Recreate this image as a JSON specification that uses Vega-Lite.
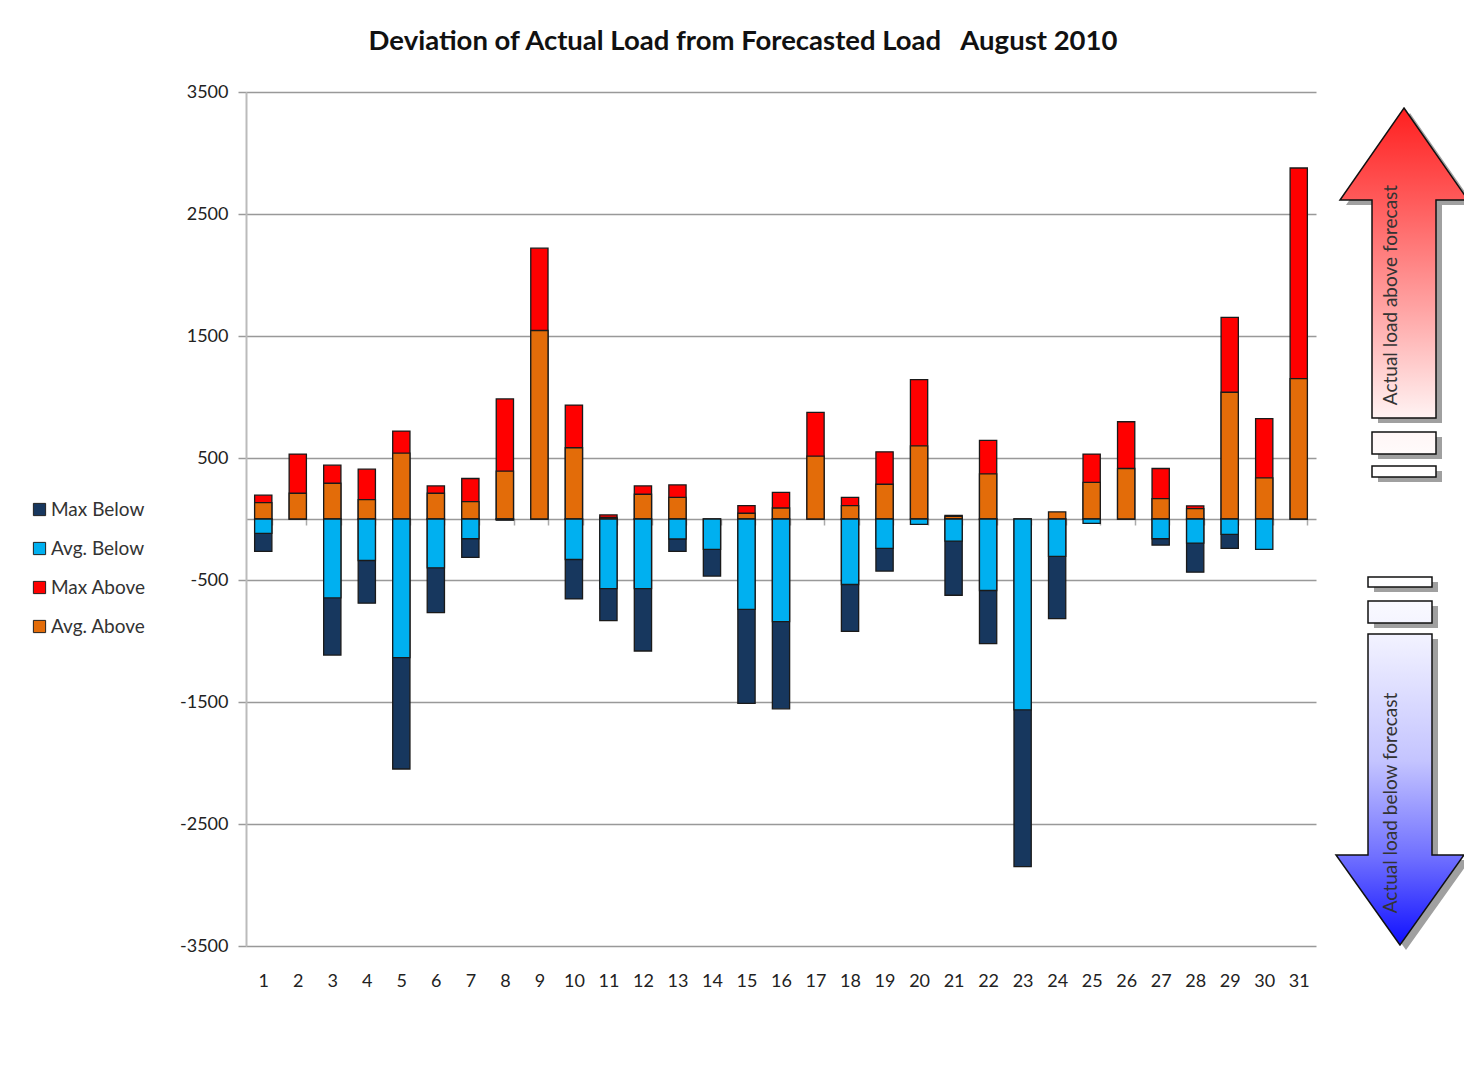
{
  "$schema": "https://vega.github.io/schema/vega-lite/v6.json",
  "width": 1070,
  "height": 854,
  "autosize": "none",
  "padding": {"left": 246, "top": 92, "right": 148, "bottom": 121},
  "background": "white",
  "config": {"view": {"stroke": null}, "font": "Lato"},
  "title": {
    "text": "Deviation of Actual Load from Forecasted Load\u00a0\u00a0 August 2010",
    "font": "Lato",
    "fontSize": 27.5,
    "fontWeight": "bold",
    "color": "#111",
    "anchor": "middle",
    "dx": -38,
    "offset": 28
  },
  "datasets": {
    "bars": [
      {"day": 1, "series": "Max Above", "value": 195},
      {"day": 2, "series": "Max Above", "value": 532},
      {"day": 3, "series": "Max Above", "value": 441},
      {"day": 4, "series": "Max Above", "value": 408},
      {"day": 5, "series": "Max Above", "value": 721},
      {"day": 6, "series": "Max Above", "value": 271},
      {"day": 7, "series": "Max Above", "value": 332},
      {"day": 8, "series": "Max Above", "value": 984},
      {"day": 9, "series": "Max Above", "value": 2220},
      {"day": 10, "series": "Max Above", "value": 934},
      {"day": 11, "series": "Max Above", "value": 33},
      {"day": 12, "series": "Max Above", "value": 271},
      {"day": 13, "series": "Max Above", "value": 279},
      {"day": 15, "series": "Max Above", "value": 110},
      {"day": 16, "series": "Max Above", "value": 219},
      {"day": 17, "series": "Max Above", "value": 874},
      {"day": 18, "series": "Max Above", "value": 178},
      {"day": 19, "series": "Max Above", "value": 551},
      {"day": 20, "series": "Max Above", "value": 1142},
      {"day": 21, "series": "Max Above", "value": 30},
      {"day": 22, "series": "Max Above", "value": 644},
      {"day": 25, "series": "Max Above", "value": 532},
      {"day": 26, "series": "Max Above", "value": 797},
      {"day": 27, "series": "Max Above", "value": 414},
      {"day": 28, "series": "Max Above", "value": 107},
      {"day": 29, "series": "Max Above", "value": 1653},
      {"day": 30, "series": "Max Above", "value": 822},
      {"day": 31, "series": "Max Above", "value": 2877},
      {"day": 1, "series": "Max Below", "value": -266},
      {"day": 3, "series": "Max Below", "value": -1115},
      {"day": 4, "series": "Max Below", "value": -690},
      {"day": 5, "series": "Max Below", "value": -2049},
      {"day": 6, "series": "Max Below", "value": -767},
      {"day": 7, "series": "Max Below", "value": -315},
      {"day": 8, "series": "Max Below", "value": -10},
      {"day": 10, "series": "Max Below", "value": -655},
      {"day": 11, "series": "Max Below", "value": -833},
      {"day": 12, "series": "Max Below", "value": -1082},
      {"day": 13, "series": "Max Below", "value": -266},
      {"day": 14, "series": "Max Below", "value": -468},
      {"day": 15, "series": "Max Below", "value": -1512},
      {"day": 16, "series": "Max Below", "value": -1556},
      {"day": 18, "series": "Max Below", "value": -921},
      {"day": 19, "series": "Max Below", "value": -427},
      {"day": 21, "series": "Max Below", "value": -625},
      {"day": 22, "series": "Max Below", "value": -1022},
      {"day": 23, "series": "Max Below", "value": -2849},
      {"day": 24, "series": "Max Below", "value": -816},
      {"day": 27, "series": "Max Below", "value": -214},
      {"day": 28, "series": "Max Below", "value": -436},
      {"day": 29, "series": "Max Below", "value": -241},
      {"day": 1, "series": "Avg. Above", "value": 134},
      {"day": 2, "series": "Avg. Above", "value": 211},
      {"day": 3, "series": "Avg. Above", "value": 293},
      {"day": 4, "series": "Avg. Above", "value": 159},
      {"day": 5, "series": "Avg. Above", "value": 540},
      {"day": 6, "series": "Avg. Above", "value": 211},
      {"day": 7, "series": "Avg. Above", "value": 142},
      {"day": 8, "series": "Avg. Above", "value": 392},
      {"day": 9, "series": "Avg. Above", "value": 1545},
      {"day": 10, "series": "Avg. Above", "value": 584},
      {"day": 11, "series": "Avg. Above", "value": 14},
      {"day": 12, "series": "Avg. Above", "value": 203},
      {"day": 13, "series": "Avg. Above", "value": 178},
      {"day": 15, "series": "Avg. Above", "value": 47},
      {"day": 16, "series": "Avg. Above", "value": 90},
      {"day": 17, "series": "Avg. Above", "value": 515},
      {"day": 18, "series": "Avg. Above", "value": 110},
      {"day": 19, "series": "Avg. Above", "value": 285},
      {"day": 20, "series": "Avg. Above", "value": 600},
      {"day": 21, "series": "Avg. Above", "value": 22},
      {"day": 22, "series": "Avg. Above", "value": 370},
      {"day": 24, "series": "Avg. Above", "value": 58},
      {"day": 25, "series": "Avg. Above", "value": 301},
      {"day": 26, "series": "Avg. Above", "value": 414},
      {"day": 27, "series": "Avg. Above", "value": 167},
      {"day": 28, "series": "Avg. Above", "value": 85},
      {"day": 29, "series": "Avg. Above", "value": 1039},
      {"day": 30, "series": "Avg. Above", "value": 337},
      {"day": 31, "series": "Avg. Above", "value": 1150},
      {"day": 1, "series": "Avg. Below", "value": -118},
      {"day": 3, "series": "Avg. Below", "value": -647},
      {"day": 4, "series": "Avg. Below", "value": -340},
      {"day": 5, "series": "Avg. Below", "value": -1137},
      {"day": 6, "series": "Avg. Below", "value": -400},
      {"day": 7, "series": "Avg. Below", "value": -162},
      {"day": 8, "series": "Avg. Below", "value": -5},
      {"day": 10, "series": "Avg. Below", "value": -332},
      {"day": 11, "series": "Avg. Below", "value": -570},
      {"day": 12, "series": "Avg. Below", "value": -570},
      {"day": 13, "series": "Avg. Below", "value": -164},
      {"day": 14, "series": "Avg. Below", "value": -249},
      {"day": 15, "series": "Avg. Below", "value": -740},
      {"day": 16, "series": "Avg. Below", "value": -841},
      {"day": 18, "series": "Avg. Below", "value": -537},
      {"day": 19, "series": "Avg. Below", "value": -241},
      {"day": 20, "series": "Avg. Below", "value": -44},
      {"day": 21, "series": "Avg. Below", "value": -181},
      {"day": 22, "series": "Avg. Below", "value": -586},
      {"day": 23, "series": "Avg. Below", "value": -1564},
      {"day": 24, "series": "Avg. Below", "value": -307},
      {"day": 25, "series": "Avg. Below", "value": -36},
      {"day": 27, "series": "Avg. Below", "value": -162},
      {"day": 28, "series": "Avg. Below", "value": -197},
      {"day": 29, "series": "Avg. Below", "value": -126},
      {"day": 30, "series": "Avg. Below", "value": -249}
    ],
    "upArrow": [{"pos": 1158, "value": 3369}],
    "downArrow": [{"pos": 1154, "value": -3492}],
    "arrowText": [
      {"pos": 1145, "value": 1836, "txt": "Actual load above forecast"},
      {"pos": 1145, "value": -2328, "txt": "Actual load below forecast"}
    ]
  },
  "layer": [
    {
      "data": {"name": "bars"},
      "mark": {"type": "bar", "stroke": "#1a1a1a", "strokeWidth": 1.3},
      "encoding": {
        "x": {
          "field": "day",
          "type": "ordinal",
          "scale": {"paddingInner": 0.5, "paddingOuter": 0.25},
          "axis": {
            "title": null,
            "orient": "bottom",
            "offset": -427,
            "labelAngle": 0,
            "labelFont": "Lato",
            "labelFontSize": 18,
            "labelColor": "#222",
            "labelPadding": 447,
            "tickBand": "extent",
            "tickSize": 6,
            "tickColor": "#aaa",
            "tickWidth": 1.5,
            "domainColor": "#999",
            "domainWidth": 1.5,
            "grid": false
          }
        },
        "y": {
          "field": "value",
          "type": "quantitative",
          "stack": null,
          "scale": {"domain": [-3500, 3500], "nice": false, "zero": false},
          "axis": {
            "title": null,
            "values": [-3500, -2500, -1500, -500, 500, 1500, 2500, 3500],
            "labelExpr": "'' + datum.value",
            "grid": true,
            "gridColor": "#999",
            "gridWidth": 1.5,
            "domainColor": "#bbb",
            "domainWidth": 2,
            "tickSize": 8,
            "tickColor": "#999",
            "tickWidth": 1.5,
            "labelFont": "Lato",
            "labelFontSize": 18,
            "labelColor": "#222",
            "labelPadding": 10
          }
        },
        "color": {
          "field": "series",
          "type": "nominal",
          "scale": {
            "domain": ["Max Below", "Avg. Below", "Max Above", "Avg. Above"],
            "range": ["#17375E", "#00B0F0", "#FF0000", "#E36C09"]
          },
          "legend": {
            "title": null,
            "orient": "none",
            "legendX": -216,
            "legendY": 408,
            "padding": 0,
            "symbolType": "square",
            "symbolSize": 150,
            "symbolStrokeColor": "#222",
            "symbolStrokeWidth": 1,
            "labelFont": "Lato",
            "labelFontSize": 19,
            "labelColor": "#333",
            "labelOffset": 2,
            "rowPadding": 19
          }
        }
      }
    },
    {
      "data": {"name": "upArrow"},
      "mark": {
        "type": "point",
        "shape": "M0,0L0.64,0.92L0.32,0.92L0.32,3.1L-0.32,3.1L-0.32,0.92L-0.64,0.92ZM-0.32,3.24L0.32,3.24L0.32,3.46L-0.32,3.46ZM-0.32,3.58L0.32,3.58L0.32,3.69L-0.32,3.69Z",
        "size": 40000,
        "filled": true,
        "fill": "#808080",
        "opacity": 0.75,
        "strokeWidth": 0,
        "xOffset": 6,
        "yOffset": 5
      },
      "encoding": {
        "x": {"field": "pos", "type": "quantitative", "scale": {"domain": [0, 1070], "nice": false, "zero": false}, "axis": null},
        "y": {"field": "value", "type": "quantitative"}
      }
    },
    {
      "data": {"name": "downArrow"},
      "mark": {
        "type": "point",
        "shape": "M0,0L-0.64,-0.9L-0.32,-0.9L-0.32,-3.11L0.32,-3.11L0.32,-0.9L0.64,-0.9ZM-0.32,-3.22L0.32,-3.22L0.32,-3.44L-0.32,-3.44ZM-0.32,-3.58L0.32,-3.58L0.32,-3.68L-0.32,-3.68Z",
        "size": 40000,
        "filled": true,
        "fill": "#808080",
        "opacity": 0.75,
        "strokeWidth": 0,
        "xOffset": 6,
        "yOffset": 5
      },
      "encoding": {
        "x": {"field": "pos", "type": "quantitative", "scale": {"domain": [0, 1070], "nice": false, "zero": false}, "axis": null},
        "y": {"field": "value", "type": "quantitative"}
      }
    },
    {
      "data": {"name": "upArrow"},
      "mark": {
        "type": "point",
        "shape": "M0,0L0.64,0.92L0.32,0.92L0.32,3.1L-0.32,3.1L-0.32,0.92L-0.64,0.92ZM-0.32,3.24L0.32,3.24L0.32,3.46L-0.32,3.46ZM-0.32,3.58L0.32,3.58L0.32,3.69L-0.32,3.69Z",
        "size": 40000,
        "filled": true,
        "opacity": 1,
        "fill": {
          "gradient": "linear",
          "x1": 0, "y1": 0, "x2": 0, "y2": 1,
          "stops": [
            {"offset": 0, "color": "#ff1f1f"},
            {"offset": 0.25, "color": "#ff5a5a"},
            {"offset": 0.55, "color": "#ffa5a5"},
            {"offset": 0.84, "color": "#fff3f3"},
            {"offset": 1, "color": "#ffffff"}
          ]
        },
        "stroke": "#111",
        "strokeWidth": 1.5
      },
      "encoding": {
        "x": {"field": "pos", "type": "quantitative", "scale": {"domain": [0, 1070], "nice": false, "zero": false}, "axis": null},
        "y": {"field": "value", "type": "quantitative"}
      }
    },
    {
      "data": {"name": "downArrow"},
      "mark": {
        "type": "point",
        "shape": "M0,0L-0.64,-0.9L-0.32,-0.9L-0.32,-3.11L0.32,-3.11L0.32,-0.9L0.64,-0.9ZM-0.32,-3.22L0.32,-3.22L0.32,-3.44L-0.32,-3.44ZM-0.32,-3.58L0.32,-3.58L0.32,-3.68L-0.32,-3.68Z",
        "size": 40000,
        "filled": true,
        "opacity": 1,
        "fill": {
          "gradient": "linear",
          "x1": 0, "y1": 0, "x2": 0, "y2": 1,
          "stops": [
            {"offset": 0, "color": "#ffffff"},
            {"offset": 0.16, "color": "#f2f2ff"},
            {"offset": 0.5, "color": "#c4c4ff"},
            {"offset": 0.76, "color": "#7070ff"},
            {"offset": 1, "color": "#1010ff"}
          ]
        },
        "stroke": "#111",
        "strokeWidth": 1.5
      },
      "encoding": {
        "x": {"field": "pos", "type": "quantitative", "scale": {"domain": [0, 1070], "nice": false, "zero": false}, "axis": null},
        "y": {"field": "value", "type": "quantitative"}
      }
    },
    {
      "data": {"name": "arrowText"},
      "mark": {
        "type": "text",
        "angle": 270,
        "align": "center",
        "baseline": "middle",
        "font": "Lato",
        "fontSize": 19,
        "color": "#333"
      },
      "encoding": {
        "x": {"field": "pos", "type": "quantitative", "scale": {"domain": [0, 1070], "nice": false, "zero": false}, "axis": null},
        "y": {"field": "value", "type": "quantitative"},
        "text": {"field": "txt", "type": "nominal"}
      }
    }
  ],
  "resolve": {"scale": {"x": "independent"}, "axis": {"x": "independent"}}
}
